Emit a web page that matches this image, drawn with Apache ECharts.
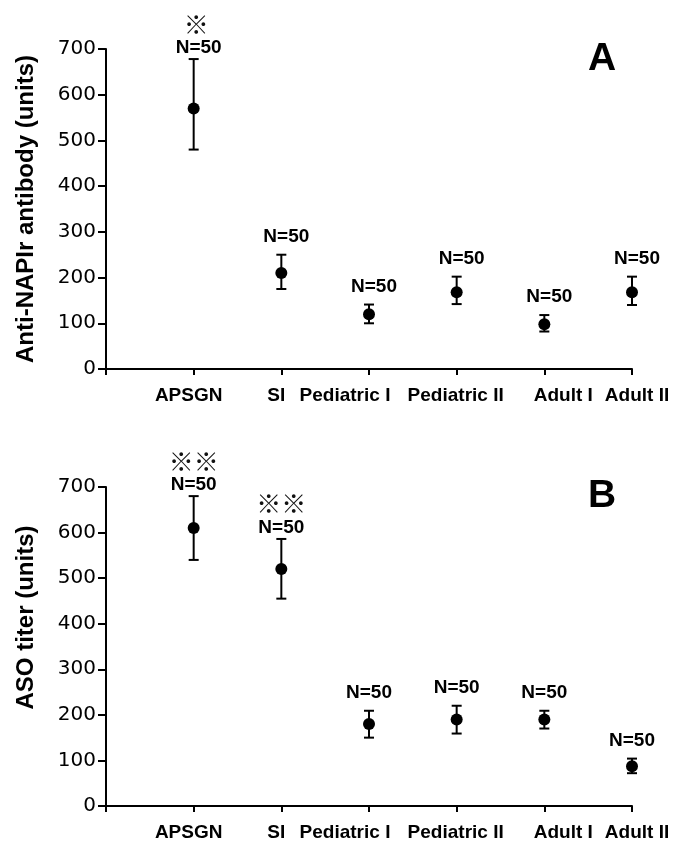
<!DOCTYPE html>
<html>
<head>
<meta charset="utf-8">
<script src="https://cdn.jsdelivr.net/npm/echarts@6/dist/echarts.min.js"></script>
<style>
  html, body { margin: 0; padding: 0; background: #fff; }
  #main { width: 678px; height: 842px; }
</style>
</head>
<body>
<div id="main"></div>
<script>
var categories = ['APSGN', 'SI', 'Pediatric I', 'Pediatric II', 'Adult I', 'Adult II'];

// panel A: anti-NAPlr antibody
var meanA = [570, 210, 120, 168, 98, 168];
var lowA  = [480, 175, 100, 142, 82, 140];
var highA = [678, 250, 141, 202, 118, 202];
var countA = [50, 50, 50, 50, 50, 50];
var noteA = ['※', '', '', '', '', ''];

// panel B: ASO titer
var meanB = [610, 520, 180, 190, 190, 87];
var lowB  = [540, 455, 150, 159, 170, 72];
var highB = [680, 586, 209, 220, 209, 104];
var countB = [50, 50, 50, 50, 50, 50];
var noteB = ['※※', '※※', '', '', '', ''];

// small horizontal nudges of the x labels as in the scan
var labelShift = [-5, -5, -24, -1, 19, 5];

var BOLD = 'Liberation Sans, Arial, sans-serif';

function xData() {
  var d = [''];
  categories.forEach(function (c, i) {
    var s = labelShift[i], pad = [0, 0, 0, 0];
    if (s < 0) pad[1] = -2 * s; else pad[3] = 2 * s;
    d.push({ value: c, textStyle: { padding: pad } });
  });
  return d;
}

function makeX(idx) {
  return {
    type: 'category', gridIndex: idx, boundaryGap: false, data: xData(),
    axisLine: { lineStyle: { color: '#000', width: 2 } },
    axisTick: { show: true, interval: 0, length: 6, lineStyle: { color: '#000', width: 2 } },
    axisLabel: { interval: 0, margin: 17, color: '#000', fontFamily: BOLD, fontWeight: 'bold', fontSize: 19 },
    splitLine: { show: false }
  };
}

function makeY(idx, name, shift) {
  return {
    type: 'value', gridIndex: idx, min: 0, max: 700, interval: 100,
    name: name, nameLocation: 'middle', nameRotate: 90, nameGap: 68,
    nameTextStyle: { color: '#000', fontFamily: BOLD, fontWeight: 'bold', fontSize: 24, padding: shift },
    axisLine: { show: true, lineStyle: { color: '#000', width: 2 } },
    axisTick: { show: true, length: 8, lineStyle: { color: '#000', width: 2 } },
    axisLabel: { margin: 10, color: '#000', fontFamily: 'DejaVu Sans', fontSize: 20 },
    splitLine: { show: false }
  };
}

function errorSeries(idx, low, high, count, note, dx) {
  var data = categories.map(function (c, i) {
    return [i + 1, low[i], high[i], count[i], note[i]];
  });
  return {
    type: 'custom', xAxisIndex: idx, yAxisIndex: idx, clip: false, z: 3,
    data: data,
    renderItem: function (params, api) {
      var x = api.value(0);
      var lo = api.coord([x, api.value(1)]);
      var hi = api.coord([x, api.value(2)]);
      var note = data[params.dataIndex][4];
      var half = 5;
      var line = { stroke: '#000', lineWidth: 2 };
      var labelY = hi[1] - (note ? 11 : 18);
      var children = [
        { type: 'line', shape: { x1: lo[0], y1: lo[1], x2: hi[0], y2: hi[1] }, style: line },
        { type: 'line', shape: { x1: hi[0] - half, y1: hi[1], x2: hi[0] + half, y2: hi[1] }, style: line },
        { type: 'line', shape: { x1: lo[0] - half, y1: lo[1], x2: lo[0] + half, y2: lo[1] }, style: line },
        { type: 'text', style: { text: 'N=' + api.value(3), x: hi[0] + dx, y: labelY,
          align: 'center', verticalAlign: 'middle', fill: '#000',
          font: 'bold 19px ' + BOLD } }
      ];
      if (note) {
        children.push({ type: 'text', style: { text: note, x: hi[0] + dx / 2, y: labelY - 24,
          align: 'center', verticalAlign: 'middle', fill: '#111',
          font: 'bold 25px "Noto Sans CJK JP"' } });
      }
      return { type: 'group', children: children };
    }
  };
}

function pointSeries(idx, mean) {
  return {
    type: 'scatter', xAxisIndex: idx, yAxisIndex: idx, z: 4,
    symbol: 'circle', symbolSize: 12,
    itemStyle: { color: '#000', opacity: 1 },
    data: mean.map(function (v, i) { return [i + 1, v]; })
  };
}

var chart = echarts.init(document.getElementById('main'));
chart.setOption({
  backgroundColor: '#fff',
  animation: false,
  title: [
    { text: 'A', left: 588, top: 40, padding: 0,
      textStyle: { fontFamily: BOLD, fontWeight: 'bold', fontSize: 39, color: '#000' } },
    { text: 'B', left: 588, top: 477, padding: 0,
      textStyle: { fontFamily: BOLD, fontWeight: 'bold', fontSize: 39, color: '#000' } }
  ],
  grid: [
    { left: 106, right: 46, top: 49, height: 320 },
    { left: 106, right: 46, top: 487, height: 320 }
  ],
  xAxis: [makeX(0), makeX(1)],
  yAxis: [
    makeY(0, 'Anti-NAPIr antibody (units)', 0),
    makeY(1, 'ASO titer (units)', [0, 0, 0, 58])
  ],
  series: [
    errorSeries(0, lowA, highA, countA, noteA, 5),
    pointSeries(0, meanA),
    errorSeries(1, lowB, highB, countB, noteB, 0),
    pointSeries(1, meanB)
  ]
});
</script>
</body>
</html>
